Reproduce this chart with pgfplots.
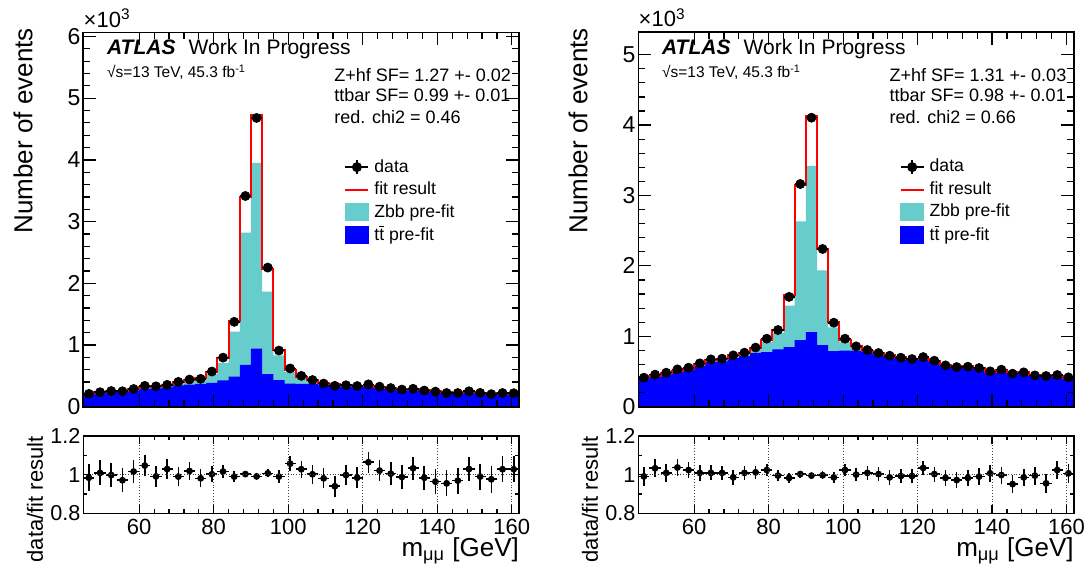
\documentclass[border=0pt]{standalone}
\usepackage{fontspec}
\setmainfont{Liberation Sans}
\usepackage{pgfplots}
\usepackage{pgfplotstable}
\pgfplotsset{compat=1.18}
\definecolor{zbb}{RGB}{102,205,204}

% columns: lower bin edge, bin centre, half width, data, data error, ttbar pre-fit, total pre-fit (ttbar+Zbb), fit result, data/fit, ratio error
\pgfplotstableread{
lo c hw data derr tt tot fit rat rerr
45 46.5 1.5 208 14.4 195 209 211 0.984 0.069
48 49.5 1.5 235 15.3 215 231 233 1.009 0.065
51 52.5 1.5 254 15.9 235 252 255 0.998 0.063
54 55.5 1.5 250 15.8 240 255 257 0.971 0.063
57 58.5 1.5 287 16.9 262 280 282 1.016 0.059
60 61.5 1.5 338 18.4 290 318 323 1.047 0.054
63 64.5 1.5 330 18.2 298 328 333 0.991 0.055
66 67.5 1.5 354 18.8 312 340 344 1.029 0.053
69 70.5 1.5 402 20.0 345 395 406 0.990 0.050
72 73.5 1.5 440 21.0 358 419 432 1.019 0.048
75 76.5 1.5 451 21.2 370 444 460 0.981 0.047
78 79.5 1.5 570 23.9 388 534 569 1.002 0.042
81 82.5 1.5 795 28.2 427 710 782 1.016 0.035
84 85.5 1.5 1375 37.1 489 1215 1389 0.990 0.027
87 88.5 1.5 3415 58.4 678 2820 3405 1.003 0.017
90 91.5 1.5 4680 68.4 940 3950 4722 0.991 0.015
93 94.5 1.5 2255 47.5 528 1865 2239 1.007 0.021
96 97.5 1.5 910 30.2 430 830 919 0.990 0.033
99 100.5 1.5 620 24.9 375 560 587 1.057 0.040
102 103.5 1.5 500 22.4 372 465 486 1.028 0.045
105 106.5 1.5 432 20.8 372 422 431 1.002 0.048
108 109.5 1.5 375 19.4 352 379 382 0.981 0.052
111 112.5 1.5 338 18.4 335 357 360 0.940 0.054
114 115.5 1.5 348 18.7 325 347 349 0.998 0.054
117 118.5 1.5 335 18.3 318 338 340 0.984 0.055
120 121.5 1.5 362 19.0 318 338 340 1.064 0.053
123 124.5 1.5 325 18.0 300 317 318 1.021 0.055
126 127.5 1.5 302 17.4 283 299 300 1.005 0.058
129 130.5 1.5 278 16.7 266 280 281 0.988 0.060
132 133.5 1.5 290 17.0 266 280 281 1.033 0.059
135 136.5 1.5 262 16.2 252 265 266 0.984 0.062
138 139.5 1.5 245 15.7 241 253 254 0.964 0.064
141 142.5 1.5 222 14.9 220 231 232 0.955 0.067
144 145.5 1.5 222 14.9 218 228 229 0.969 0.067
147 148.5 1.5 250 15.8 232 242 243 1.029 0.063
150 151.5 1.5 224 15.0 216 225 226 0.990 0.067
153 154.5 1.5 203 14.2 199 207 208 0.976 0.070
156 157.5 1.5 222 14.9 207 215 216 1.028 0.067
159 160.5 1.5 219 14.8 204 212 213 1.028 0.068
162 163.5 1.5 nan nan 204 212 213 nan nan
}\histL

\pgfplotstableread{
lo c hw data derr tt tot fit rat rerr
45 46.5 1.5 412 20.3 398 418 416 0.991 0.049
48 49.5 1.5 455 21.3 425 443 440 1.033 0.047
51 52.5 1.5 483 22.0 460 481 479 1.009 0.046
54 55.5 1.5 530 23.0 490 514 511 1.037 0.043
57 58.5 1.5 554 23.5 518 543 541 1.024 0.042
60 61.5 1.5 616 24.8 585 614 611 1.009 0.040
63 64.5 1.5 672 25.9 635 669 666 1.009 0.039
66 67.5 1.5 682 26.1 645 679 676 1.009 0.038
69 70.5 1.5 729 27.0 690 738 739 0.986 0.037
72 73.5 1.5 767 27.7 718 761 760 1.009 0.036
75 76.5 1.5 840 29.0 765 826 830 1.012 0.035
78 79.5 1.5 966 31.1 777 916 943 1.024 0.032
81 82.5 1.5 1089 33.0 815 1050 1094 0.995 0.030
84 85.5 1.5 1560 39.5 848 1435 1587 0.983 0.025
87 88.5 1.5 3163 56.2 947 2633 3154 1.003 0.018
90 91.5 1.5 4105 64.1 1058 3420 4125 0.995 0.016
93 94.5 1.5 2240 47.3 876 1937 2247 0.997 0.021
96 97.5 1.5 1193 34.5 791 1125 1210 0.986 0.029
99 100.5 1.5 966 31.1 796 925 943 1.024 0.032
102 103.5 1.5 857 29.3 796 850 857 1.000 0.034
105 106.5 1.5 805 28.4 783 807 798 1.009 0.035
108 109.5 1.5 762 27.6 745 768 760 1.003 0.036
111 112.5 1.5 724 26.9 719 741 734 0.986 0.037
114 115.5 1.5 696 26.4 687 708 701 0.993 0.038
117 118.5 1.5 677 26.0 669 689 682 0.993 0.038
120 121.5 1.5 705 26.6 668 688 681 1.035 0.038
123 124.5 1.5 653 25.6 639 658 651 1.003 0.039
126 127.5 1.5 587 24.2 585 603 597 0.983 0.041
129 130.5 1.5 563 23.7 568 585 579 0.972 0.042
132 133.5 1.5 568 23.8 567 584 578 0.983 0.042
135 136.5 1.5 549 23.4 545 561 555 0.990 0.043
138 139.5 1.5 502 22.4 489 504 499 1.007 0.045
141 142.5 1.5 526 22.9 518 533 527 0.998 0.044
144 145.5 1.5 469 21.7 484 498 493 0.951 0.046
147 148.5 1.5 488 22.1 486 500 495 0.986 0.045
150 151.5 1.5 445 21.1 439 452 447 0.995 0.047
153 154.5 1.5 436 20.9 449 462 457 0.955 0.048
156 157.5 1.5 450 21.2 431 444 439 1.024 0.047
159 160.5 1.5 417 20.4 406 418 414 1.007 0.049
162 163.5 1.5 nan nan 406 418 414 nan nan
}\histR

\pgfplotsset{
  common/.style={
    scale only axis, xmin=45, xmax=162,
    tick align=inside, tick pos=both, axis on top,
    clip mode=individual,
    axis line style={line width=0.8pt},
    tick style={line width=0.6pt, black},
    /pgf/number format/assume math mode=true,
    xtick={60,80,...,160}, minor x tick num=4,
  },
  mainax/.style={
    common, width=218pt, height=187.2pt, ymin=0,
    xticklabels={}, minor y tick num=4,
    major tick length=6.5pt, minor tick length=3.5pt,
    scaled y ticks=false,
    yticklabel style={font=\fontsize{11.5}{12}\selectfont, inner xsep=1.2pt},
    ylabel={Number of events},
    ylabel style={font=\fontsize{13}{14}\selectfont, inner sep=0pt, at={(axis description cs:-0.138,1.012)}, anchor=east},
    legend cell align=left,
    legend style={draw=none, fill=none, anchor=north west,
      font=\fontsize{8.8}{10}\selectfont, inner sep=0pt, row sep=0pt,
      nodes={inner ysep=0pt, inner xsep=2.5pt, minimum height=11.25pt}},
  },
  ratioax/.style={
    common, width=218pt, height=38.65pt, ymin=0.8, ymax=1.2,
    ytick={0.8,1,1.2}, minor y tick num=1,
    major tick length=4pt, minor tick length=2pt,
    grid=major, major grid style={densely dotted, black!75, line width=0.5pt},
    yticklabel style={font=\fontsize{10.8}{12}\selectfont, inner xsep=1.2pt},
    xticklabel style={font=\fontsize{11}{12}\selectfont, inner ysep=2.5pt},
    ylabel={data/fit result},
    ylabel style={font=\fontsize{11}{12}\selectfont, inner sep=0pt, at={(axis description cs:-0.111,1.0)}, anchor=east},
    xlabel={m\textsubscript{μμ} [GeV]},
    xlabel style={font=\fontsize{13}{14}\selectfont, at={(axis description cs:1,-0.565)}, anchor=base east, inner sep=0pt},
  },
  dataerr/.style={black, only marks, mark=*, forget plot,
    skip coords between index={39}{40},
    error bars/.cd, x dir=both, x explicit, y dir=both, y explicit,
    error mark=none, error bar style={line width=0.8pt, black}, /pgfplots/.cd},
}

\newcommand{\legendset}{%
  \addlegendimage{legend image code/.code={\draw[black,line width=0.9pt] (0pt,0pt)--(11.5pt,0pt); \draw[black,line width=0.9pt] (5.75pt,-3.5pt)--(5.75pt,3.5pt); \fill[black] (5.75pt,0pt) circle (2.3pt);}}
  \addlegendentry{data}
  \addlegendimage{legend image code/.code={\draw[red,line width=1pt] (0pt,0pt)--(11.5pt,0pt);}}
  \addlegendentry{fit result}
  \addlegendimage{legend image code/.code={\fill[zbb] (0pt,-4.2pt) rectangle (11.5pt,4.2pt);}}
  \addlegendentry{Zbb pre-fit}
  \addlegendimage{legend image code/.code={\fill[blue] (0pt,-4.2pt) rectangle (11.5pt,4.2pt);}}
  \addlegendentry{t$\overline{\mbox{t}}$ pre-fit}
}

\begin{document}
\begin{tikzpicture}
\useasboundingbox (0,0) rectangle (544.5pt,287.5pt);

% ---------------- left main ----------------
\begin{axis}[mainax, at={(41.65pt,84.15pt)}, anchor=south west,
  ymax=6068, ytick={0,1000,...,6000}, yticklabels={0,1,2,3,4,5,6},
  legend style={at={(axis description cs:0.598,0.671)}}]
\legendset
\addplot[fill=zbb, draw=none, const plot mark left, forget plot] table[x=lo, y=tot] {\histL} \closedcycle;
\addplot[fill=blue, draw=none, const plot mark left, forget plot] table[x=lo, y=tt] {\histL} \closedcycle;
\addplot[red, line width=1pt, const plot mark left, forget plot] table[x=lo, y=fit] {\histL};
\addplot[mark size=2.25pt, dataerr] table[x=c, y=data, x error=hw, y error=derr] {\histL};
\node[anchor=base west, inner sep=0pt, font=\fontsize{11}{12}\selectfont] at ([yshift=2.65pt]axis description cs:0,1) {×10\textsuperscript{3}};
\node[anchor=base west, inner sep=0pt, font=\fontsize{10.5}{12}\selectfont] at (axis description cs:0.0537,0.9394) {\textbf{\textit{ATLAS}}\hspace{0.35em} Work In Progress};
\node[anchor=base west, inner sep=0pt, font=\fontsize{7.75}{9}\selectfont] at (axis description cs:0.0537,0.8787) {√s=13 TeV, 45.3 fb\textsuperscript{-1}};
\node[anchor=base west, inner sep=0pt, font=\fontsize{9}{10}\selectfont] at (axis description cs:0.575,0.868) {Z+hf SF= 1.27 +- 0.02};
\node[anchor=base west, inner sep=0pt, font=\fontsize{9}{10}\selectfont] at (axis description cs:0.575,0.8146) {ttbar SF= 0.99 +- 0.01};
\node[anchor=base west, inner sep=0pt, font=\fontsize{9}{10}\selectfont] at (axis description cs:0.575,0.757) {red. chi2 = 0.46};
\end{axis}

% ---------------- left ratio ----------------
\begin{axis}[ratioax, at={(41.65pt,30.85pt)}, anchor=south west]
\addplot[mark size=1.5pt, dataerr] table[x=c, y=rat, x error=hw, y error=rerr] {\histL};
\end{axis}

% ---------------- right main ----------------
\begin{axis}[mainax, width=217.85pt, at={(319.15pt,84.15pt)}, anchor=south west,
  ymax=5318, ytick={0,1000,...,5000}, yticklabels={0,1,2,3,4,5},
  legend style={at={(axis description cs:0.599,0.671)}}]
\legendset
\addplot[fill=zbb, draw=none, const plot mark left, forget plot] table[x=lo, y=tot] {\histR} \closedcycle;
\addplot[fill=blue, draw=none, const plot mark left, forget plot] table[x=lo, y=tt] {\histR} \closedcycle;
\addplot[red, line width=1pt, const plot mark left, forget plot] table[x=lo, y=fit] {\histR};
\addplot[mark size=2.25pt, dataerr] table[x=c, y=data, x error=hw, y error=derr] {\histR};
\node[anchor=base west, inner sep=0pt, font=\fontsize{11}{12}\selectfont] at ([yshift=2.65pt]axis description cs:0,1) {×10\textsuperscript{3}};
\node[anchor=base west, inner sep=0pt, font=\fontsize{10.5}{12}\selectfont] at (axis description cs:0.0537,0.9394) {\textbf{\textit{ATLAS}}\hspace{0.35em} Work In Progress};
\node[anchor=base west, inner sep=0pt, font=\fontsize{7.75}{9}\selectfont] at (axis description cs:0.0537,0.8787) {√s=13 TeV, 45.3 fb\textsuperscript{-1}};
\node[anchor=base west, inner sep=0pt, font=\fontsize{9}{10}\selectfont] at (axis description cs:0.576,0.868) {Z+hf SF= 1.31 +- 0.03};
\node[anchor=base west, inner sep=0pt, font=\fontsize{9}{10}\selectfont] at (axis description cs:0.576,0.8146) {ttbar SF= 0.98 +- 0.01};
\node[anchor=base west, inner sep=0pt, font=\fontsize{9}{10}\selectfont] at (axis description cs:0.576,0.757) {red. chi2 = 0.66};
\end{axis}

% ---------------- right ratio ----------------
\begin{axis}[ratioax, width=217.85pt, at={(319.15pt,30.85pt)}, anchor=south west]
\addplot[mark size=1.5pt, dataerr] table[x=c, y=rat, x error=hw, y error=rerr] {\histR};
\end{axis}
\end{tikzpicture}
\end{document}
